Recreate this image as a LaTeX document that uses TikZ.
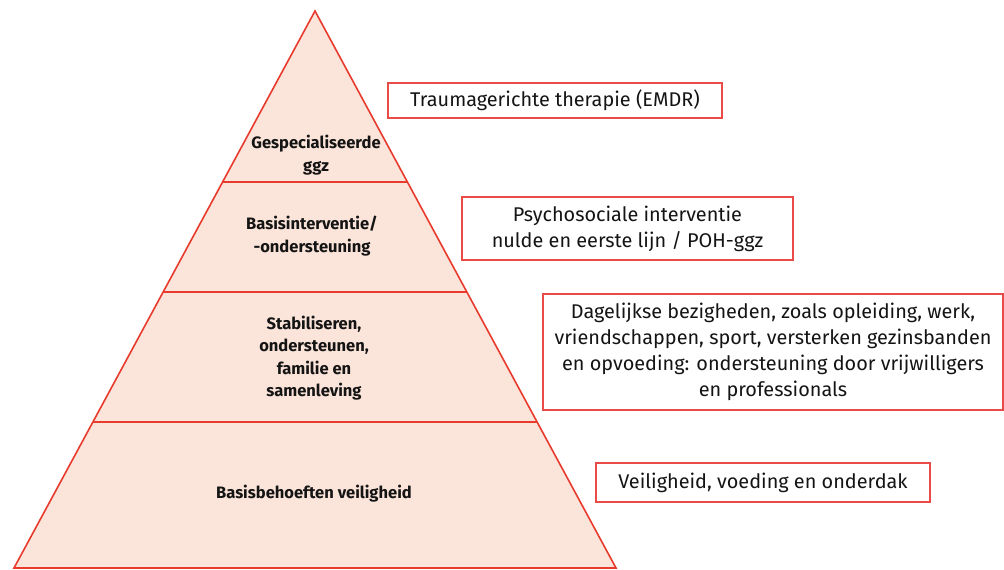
\documentclass[tikz,border=0pt]{standalone}
\usepackage{fontspec}
\setmainfont{Fira Sans}
\begin{document}
\begin{tikzpicture}[x=0.75pt,y=-0.75pt,
  redline/.style={draw={rgb,255:red,232;green,58;blue,45}, line width=1.2pt},
  boxline/.style={draw={rgb,255:red,233;green,76;blue,70}, line width=1.2pt},
  lvl/.style={font=\fontsize{12.4}{16.8}\selectfont\bfseries, align=center, text={rgb,255:red,20;green,20;blue,20}},
  note/.style={font=\fontsize{14.9}{19.5}\selectfont, align=center, text={rgb,255:red,20;green,20;blue,20}}]
\useasboundingbox (0,0) rectangle (1004,570);
\definecolor{peach}{RGB}{251,228,217}
% pyramid
\coordinate (apex) at (315,11);
\coordinate (bl) at (14,568);
\coordinate (br) at (616,568);
\fill[peach] (apex) -- (bl) -- (br) -- cycle;
\draw[redline] (apex) -- (bl) -- (br) -- cycle;
\draw[redline] (222.6,182) -- (407.4,182);
\draw[redline] (163.2,292) -- (466.8,292);
\draw[redline] (93.0,422) -- (537.0,422);
% labels
\node[lvl] (l1) at (316,155) {Gespecialiseerde\\ggz};
\node[lvl] (l2) at (312,236) {Basisinterventie/\\-ondersteuning};
\node[lvl] (l3) at (314,358) {Stabiliseren,\\ondersteunen,\\familie en\\samenleving};
\node[lvl] (l4) at (314,494) {Basisbehoeften veiligheid};
% boxes
\draw[boxline] (388,83) rectangle (722,118);
\node[note] (b1) at (555,100.5) {Traumagerichte therapie (EMDR)};
\draw[boxline] (462,197) rectangle (793,260);
\node[note] (b2) at (627.5,228.5) {Psychosociale interventie\\nulde en eerste lijn / POH-ggz};
\draw[boxline] (543,294) rectangle (1003,410);
\node[note] (b3) at (773,352) {Dagelijkse bezigheden, zoals opleiding, werk,\\vriendschappen, sport, versterken gezinsbanden\\en opvoeding: ondersteuning door vrijwilligers\\en professionals};
\draw[boxline] (596,463) rectangle (930,502);
\node[note] (b4) at (763,482.5) {Veiligheid, voeding en onderdak};
\end{tikzpicture}
\end{document}
